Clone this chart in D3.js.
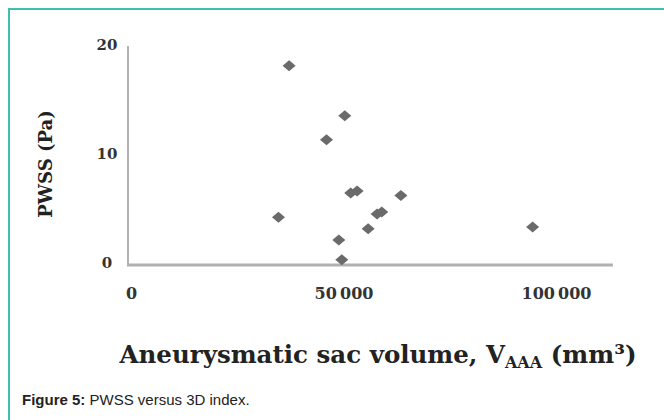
<!DOCTYPE html>
<html>
<head>
<meta charset="utf-8">
<script src="https://cdn.jsdelivr.net/npm/d3@7"></script>
<style>
  html, body { margin: 0; padding: 0; background: #fff; }
  svg { display: block; }
</style>
</head>
<body>
<svg id="chart" width="664" height="420"></svg>
<script>
// ---- data ----
const volumes = [37200, 50300, 46000, 51700, 53200, 63500, 34700, 57900, 59000, 55800, 48900, 49600, 94500];
const pwss    = [18.1, 13.5, 11.3, 6.42, 6.6, 6.2, 4.2, 4.5, 4.68, 3.15, 2.1, 0.3, 3.3];
const xTicks = [0, 50000, 100000];
const xTickLabels = ["0", "50\u2009000", "100\u2009000"];
const yTicks = [0, 10, 20];
const yTickLabels = ["0", "10", "20"];
const xTitle = "Aneurysmatic sac volume, V";
const xTitleSub = "AAA";
const xTitleTail = " (mm\u00B3)";
const yTitle = "PWSS (Pa)";
const captionBold = "Figure 5:";
const captionText = " PWSS versus 3D index.";

const svg = d3.select("#chart");
svg.append("rect").attr("width", 664).attr("height", 420).attr("fill", "#fff");

// frame
svg.append("path").attr("d", "M9,420V9H664").attr("fill", "none")
   .attr("stroke", "#3fbfae").attr("stroke-width", 2);

const x = d3.scaleLinear().domain([0, 100000]).range([131, 556]);
const y = d3.scaleLinear().domain([0, 20]).range([263, 45]);

const serif = "'DejaVu Serif', 'Liberation Serif', serif";

// axes lines
svg.append("line").attr("x1", 128).attr("x2", 128).attr("y1", y(19.9)).attr("y2", 266)
   .attr("stroke", "#999").attr("stroke-width", 1.5);
svg.append("line").attr("x1", 127).attr("x2", x(113400)).attr("y1", 265).attr("y2", 265)
   .attr("stroke", "#b0b0b0").attr("stroke-width", 3);

// y ticks via axis
const yAxis = d3.axisLeft(y).tickValues(yTicks).tickFormat((d, i) => yTickLabels[i]).tickSize(0).tickPadding(0);
const gy = svg.append("g").attr("transform", "translate(107,0)").call(yAxis);
gy.select(".domain").remove();
gy.selectAll("text").attr("text-anchor", "middle").attr("font-family", serif).attr("font-weight", "bold")
  .attr("font-size", 15).attr("fill", "#333");

// x ticks via axis
const xAxis = d3.axisBottom(x).tickValues(xTicks).tickFormat((d, i) => xTickLabels[i]).tickSize(0).tickPadding(0);
const gx = svg.append("g").attr("transform", "translate(0,288)").call(xAxis);
gx.select(".domain").remove();
gx.selectAll("text").attr("font-family", serif).attr("font-weight", "bold")
  .attr("font-size", 16).attr("fill", "#333");

// points
const diamond = {
  draw(ctx, size) {
    const w = 6.5, h = 5.5;
    ctx.moveTo(0, -h); ctx.lineTo(w, 0); ctx.lineTo(0, h); ctx.lineTo(-w, 0); ctx.closePath();
  }
};
svg.append("g").selectAll("path").data(volumes).join("path")
  .attr("d", d3.symbol().type(diamond))
  .attr("transform", (d, i) => `translate(${x(d)},${y(pwss[i])})`)
  .attr("fill", "#6a6a6a");

// y title
svg.append("text").attr("transform", "translate(52,164) rotate(-90)")
  .attr("text-anchor", "middle").attr("font-family", serif).attr("font-weight", "bold")
  .attr("font-size", 18).attr("fill", "#222").text(yTitle);

// x title
const xt = svg.append("text").attr("x", 378).attr("y", 363).attr("text-anchor", "middle")
  .attr("font-family", serif).attr("font-weight", "bold").attr("font-size", 24.5).attr("fill", "#222");
xt.append("tspan").text(xTitle);
xt.append("tspan").attr("font-size", 16).attr("dy", 5).text(xTitleSub);
xt.append("tspan").attr("dy", -5).text(xTitleTail);

// caption
const cap = svg.append("text").attr("x", 22).attr("y", 405)
  .attr("font-family", "'Liberation Sans', Arial, sans-serif").attr("font-size", 15).attr("fill", "#222");
cap.append("tspan").attr("font-weight", "bold").text(captionBold);
cap.append("tspan").text(captionText);
</script>
</body>
</html>
